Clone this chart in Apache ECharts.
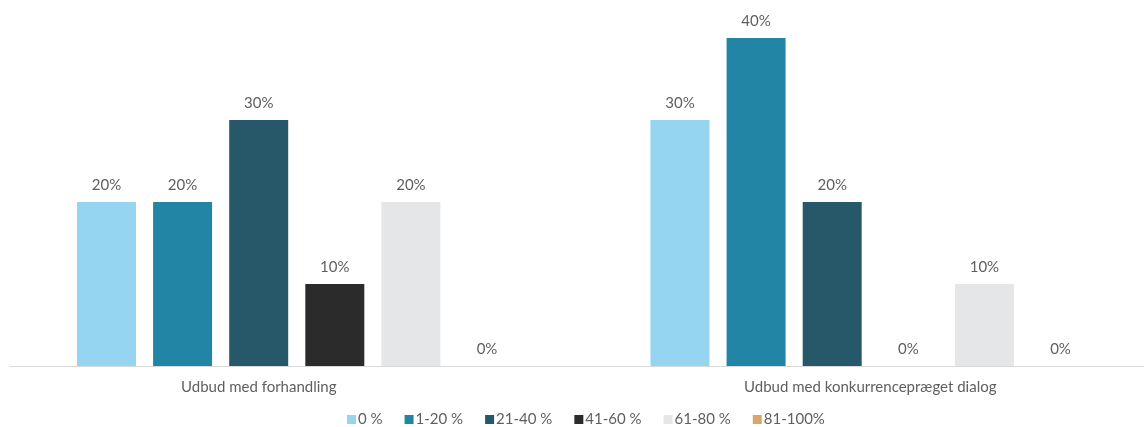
<!DOCTYPE html>
<html><head><meta charset="utf-8">
<script src="https://cdn.jsdelivr.net/npm/echarts@6/dist/echarts.min.js"></script>
<style>html,body{margin:0;padding:0;background:#fff}#c{width:1144px;height:427px}</style>
</head><body><div id="c"></div>
<script>
const categories = ['Udbud med forhandling', 'Udbud med konkurrencepræget dialog'];
const seriesNames = ['0 %', '1-20 %', '21-40 %', '41-60 %', '61-80 %', '81-100%'];
const s0 = [20, 30];
const s1 = [20, 40];
const s2 = [30, 20];
const s3 = [10, 0];
const s4 = [20, 10];
const s5 = [0, 0];
const values = [s0, s1, s2, s3, s4, s5];
const colors = ['#95d5f1', '#2385a6', '#265869', '#2b2b2b', '#e5e6e8', '#dba56e'];

const font = 'Lato';
const txt = '#5f5f5f';
const chart = echarts.init(document.getElementById('c'), null, {renderer: 'canvas'});
chart.setOption({
  animation: false,
  color: colors,
  grid: {left: 10, width: 1147, top: 38, bottom: 61, outerBoundsMode: 'none', containLabel: false},
  legend: {
    bottom: 0, left: 347, padding: 0,
    itemWidth: 9, itemHeight: 9, itemGap: 22,
    icon: 'rect',
    textStyle: {color: txt, fontSize: 15, fontFamily: font, padding: [0, 0, 0, -3]},
    data: seriesNames
  },
  xAxis: {
    type: 'category', data: categories,
    axisLine: {lineStyle: {color: '#d9d9d9', width: 1}},
    axisTick: {show: false},
    axisLabel: {
      color: txt, fontSize: 15, fontFamily: font, margin: 14,
      formatter: function (v, i) { return i === 0 ? '{a|' + v + '}' : '{b|' + v + '}'; },
      rich: {
        a: {color: txt, fontSize: 15, fontFamily: font, padding: [0, 76, 0, 0]},
        b: {color: txt, fontSize: 15, fontFamily: font}
      }
    }
  },
  yAxis: {type: 'value', min: 0, max: 40, show: false, splitLine: {show: false}},
  series: seriesNames.map((n, i) => ({
    name: n, type: 'bar', data: values[i],
    barWidth: 59, barGap: '29%',
    label: {show: true, position: 'top', distance: 9, formatter: '{c}%', color: txt, fontSize: 15, fontFamily: font}
  }))
});
</script></body></html>
